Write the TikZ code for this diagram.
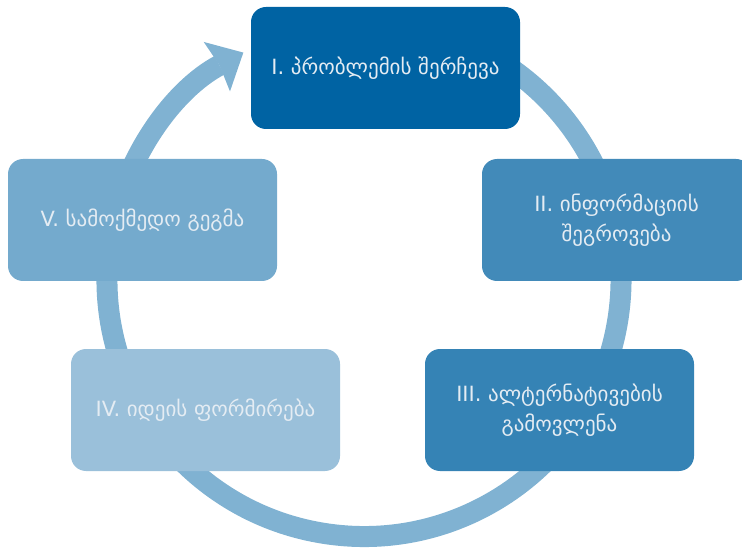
\documentclass[tikz,border=0pt]{standalone}
\usepackage{fontspec}
\newfontfamily\geofont{DejaVu Sans}
\usepackage{xcolor}
\usepackage{tikz}
\usetikzlibrary{arrows.meta}
\usetikzlibrary{positioning}
\definecolor{stepI}{RGB}{0,99,163}
\definecolor{stepII}{RGB}{66,138,185}
\definecolor{stepIII}{RGB}{53,131,181}
\definecolor{stepIV}{RGB}{154,192,218}
\definecolor{stepV}{RGB}{116,170,205}
\definecolor{ringcol}{RGB}{128,178,210}
\definecolor{boxtext}{RGB}{228,236,243}
\tikzset{
    stepbox/.style = {rectangle, rounded corners=15pt, align=center, text=boxtext,
        minimum width=269pt, minimum height=122pt, inner sep=0pt,
        font=\geofont\fontsize{21}{30}\selectfont},
    ring/.style = {line width=21pt, ringcol,
        -{Stealth[length=30pt,width=56pt,inset=3pt,line width=0pt]}}
}
\begin{document}
\begin{tikzpicture}[x=1pt,y=1pt]
\useasboundingbox (0,0) rectangle (742,547);
\coordinate (hub) at (364,267.5);
%
\draw[ring] ([shift={(80:257pt)}]hub) arc[start angle=80, end angle=-242, radius=257pt];
%
\node[stepbox, fill=stepI] at (385.5,479) (s1) {I. პრობლემის შერჩევა};
\node[stepbox, fill=stepII] at (616.5,327) (s2) {II. ინფორმაციის\\შეგროვება};
\node[stepbox, fill=stepIII] at (559.5,137) (s3) {III. ალტერნატივების\\გამოვლენა};
\node[stepbox, fill=stepIV] at (205.5,137) (s4) {IV. იდეის ფორმირება};
\node[stepbox, fill=stepV] at (142.5,327) (s5) {V. სამოქმედო გეგმა};
\end{tikzpicture}
\end{document}
